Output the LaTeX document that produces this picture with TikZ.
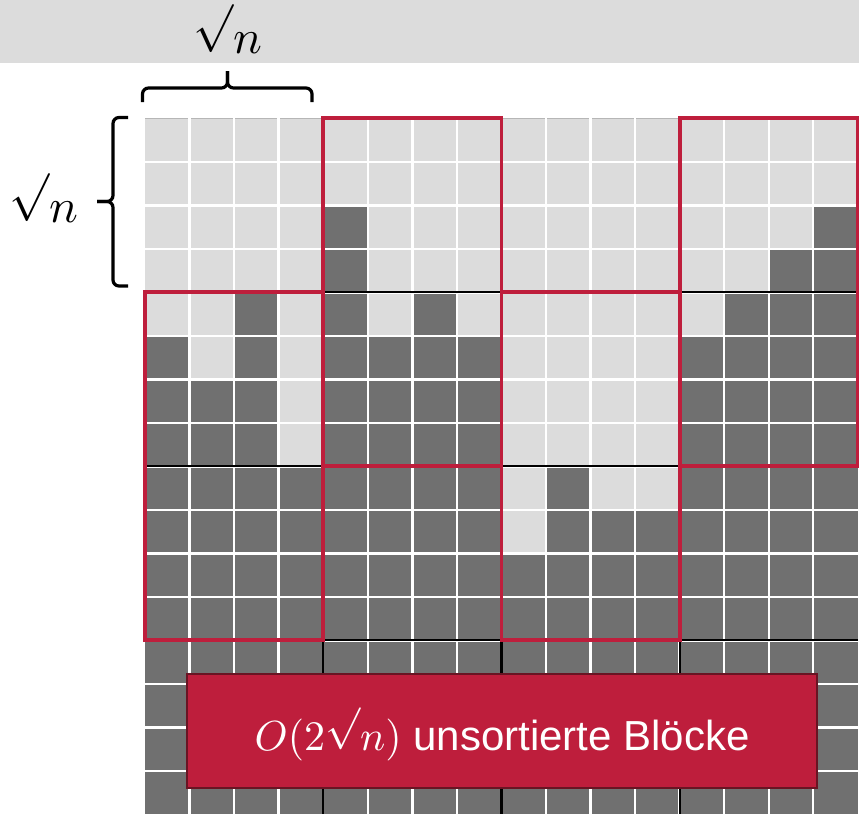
\documentclass[tikz,border=0pt]{standalone}
\usepackage{graphicx}
\usepackage{fontspec}
\newfontfamily\arialfont{Liberation Sans}
\definecolor{crim}{RGB}{190,30,60}
\definecolor{crimdark}{RGB}{105,20,35}
\definecolor{cdark}{RGB}{112,112,112}
\definecolor{clight}{RGB}{220,220,220}
\newcommand{\sqn}{\mathord{\raisebox{\depth}{$\surd$}}n}
\newcommand{\mth}[2]{\scalebox{#1}{\fontsize{10}{12}\selectfont$#2$}}
\tikzset{
  wline/.style={white, line width=2.4pt},
  bline/.style={black, line width=2.2pt},
  rline/.style={crim, line width=3.8pt},
  brc/.style={black, line width=3.2pt, rounded corners=6pt},
  lbl/.style={inner sep=0pt, anchor=base},
  infobox/.style={fill=crim, draw=crimdark, line width=2.5pt, minimum width=630pt, minimum height=114pt, inner sep=0pt},
  infotxt/.style={text=white, inner sep=0pt, anchor=base, font=\arialfont\fontsize{42}{50}\selectfont}
}
\begin{document}
\begin{tikzpicture}[x=1pt, y=-1pt]
\useasboundingbox (0,0) rectangle (859,814);
\fill[clight] (0,0) rectangle (859,62.5);
\begin{scope}[shift={(145pt,-118.3pt)}, x=44.55pt, y=-43.5pt]
  \fill[cdark] (0,0) rectangle (16,16);
  \fill[clight] (0,0) rectangle (16,2)
    (0,2) rectangle (4,4) (5,2) rectangle (14,4) (14,2) rectangle (15,3)
    (0,4) rectangle (2,5) (3,4) rectangle (4,8) (5,4) rectangle (6,5)
    (7,4) rectangle (13,5) (1,5) rectangle (2,6) (8,5) rectangle (12,8)
    (8,8) rectangle (9,10) (10,8) rectangle (12,9);
  \foreach \i in {1,...,15} {
    \draw[wline] (\i,0) -- (\i,16);
    \draw[wline] (0,\i) -- (16,\i);
  }
  \foreach \i in {4,8,12} {
    \draw[bline] (\i,0) -- (\i,16);
    \draw[bline] (0,\i) -- (16,\i);
  }
  \draw[rline] (0,4) rectangle (4,12);
  \draw[rline] (4,0) rectangle (8,8);
  \draw[rline] (8,4) rectangle (12,12);
  \draw[rline] (12,0) rectangle (16,8);
\end{scope}
% braces
\draw[brc] (142.5,102) -- (142.5,88) -- (227.5,88) -- (227.5,71);
\draw[brc] (227.5,71) -- (227.5,88) -- (312,88) -- (312,102);
\draw[brc] (128,117.5) -- (113,117.5) -- (113,201.5) -- (97,201.5);
\draw[brc] (97,201.5) -- (113,201.5) -- (113,286) -- (128,286);
% labels
\node[lbl] (topn) at (227.5,53) {\mth{4.8}{\sqn}};
\node[lbl] (leftn) at (43.5,222) {\mth{4.8}{\sqn}};
% info box
\node[infobox] (box) at (502,731) {};
\node[infotxt] (boxtxt) at (502,750) {\mth{4.2}{O(2\sqn)} unsortierte Blöcke};
\end{tikzpicture}
\end{document}
